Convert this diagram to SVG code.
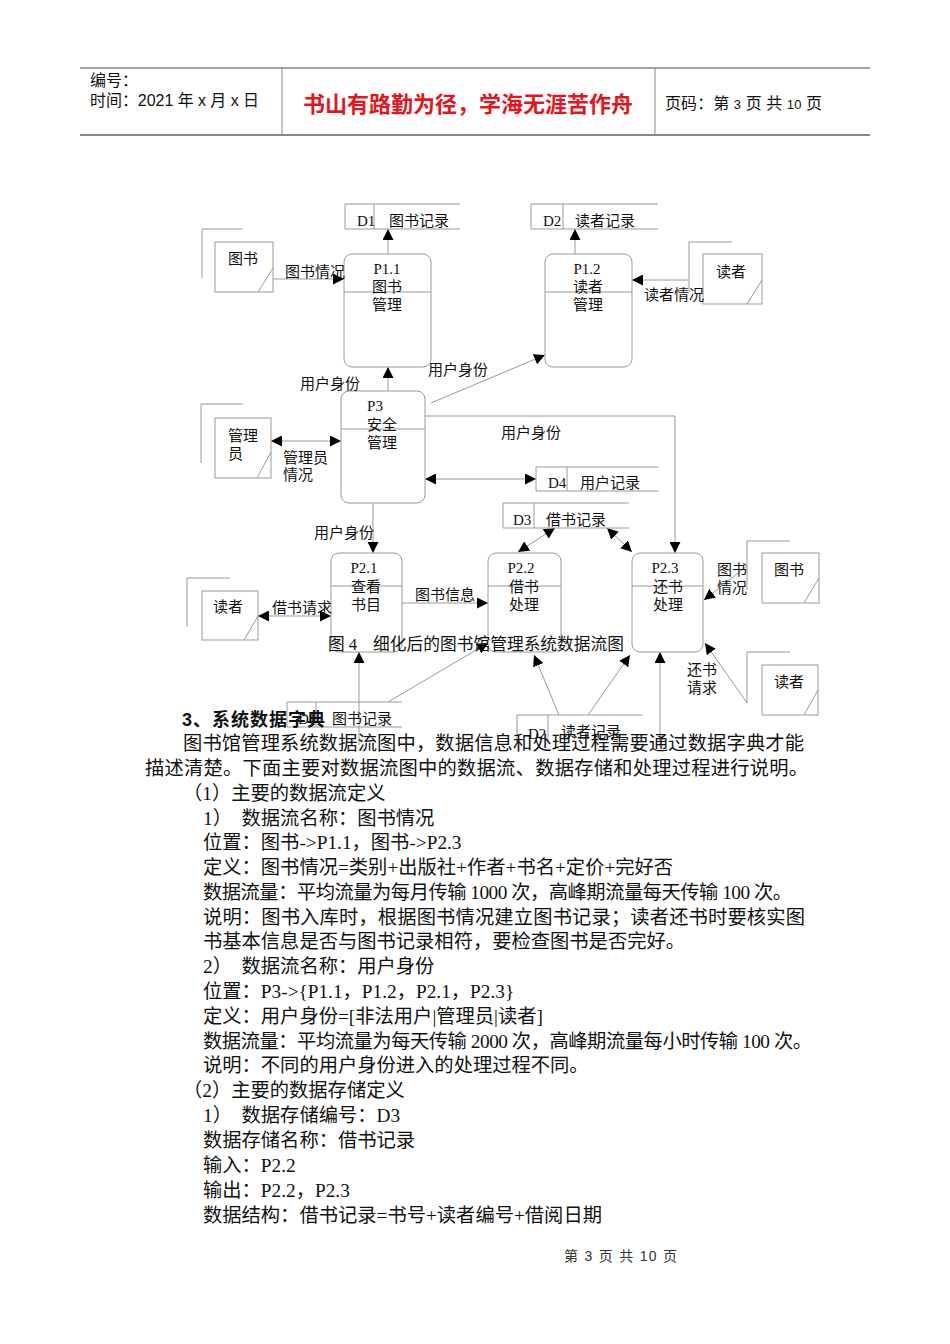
<svg xmlns="http://www.w3.org/2000/svg" width="950" height="1344" viewBox="0 0 950 1344">
<defs>
<marker id="ah" markerUnits="userSpaceOnUse" markerWidth="11" markerHeight="11" refX="10" refY="5" orient="auto-start-reverse" viewBox="0 0 10 10">
<path d="M0,0 L10,5 L0,10 z" fill="#000"/>
</marker>
<style>
.ln{stroke:#9a9a9a;stroke-width:1;fill:none}
.box{stroke:#9a9a9a;stroke-width:1;fill:#fff}
.proc{stroke:#9a9a9a;stroke-width:1;fill:#fff}
.c{stroke:#9a9a9a;stroke-width:1;fill:none;marker-end:url(#ah)}
.cb{stroke:#9a9a9a;stroke-width:1;fill:none;marker-end:url(#ah);marker-start:url(#ah)}
.t{font-family:"Liberation Serif","Noto Sans CJK SC",serif;font-size:15px;fill:#111}
.cap{font-family:"Liberation Serif","Noto Sans CJK SC",serif;font-size:16.7px;fill:#111}
.tm{text-anchor:middle}
.b{font-family:"Liberation Serif","Noto Sans CJK SC",serif;font-size:19.3px;fill:#111}
.h{font-family:"Liberation Sans","Noto Sans CJK SC",sans-serif;font-size:16px;fill:#111}
</style>
</defs>
<rect width="950" height="1344" fill="#fff"/>

<g id="header">
<line x1="80" y1="68" x2="870" y2="68" stroke="#444" stroke-width="1"/>
<line x1="80" y1="135" x2="870" y2="135" stroke="#888" stroke-width="2"/>
<line x1="282" y1="68" x2="282" y2="135" stroke="#888" stroke-width="1"/>
<line x1="655" y1="68" x2="655" y2="135" stroke="#888" stroke-width="1"/>
<text class="h" x="90" y="86">编号：</text>
<text class="h" x="90" y="106" textLength="169" lengthAdjust="spacing">时间：2021 年 x 月 x 日</text>
<text x="468" y="112" text-anchor="middle" font-family="Noto Sans CJK SC, sans-serif" font-size="22" font-weight="bold" fill="#e8141b">书山有路勤为径，学海无涯苦作舟</text>
<text class="h" x="665" y="109" textLength="157" lengthAdjust="spacing">页码：第 <tspan font-size="13">3</tspan> 页  共 <tspan font-size="13">10</tspan> 页</text>
</g>

<g id="connectors">
<line class="c" x1="273" y1="279" x2="344" y2="279"/>
<line class="c" x1="388" y1="254" x2="388" y2="229"/>
<line class="c" x1="388" y1="391" x2="388" y2="367"/>
<line class="c" x1="575" y1="254" x2="575" y2="229"/>
<line class="c" x1="689" y1="280" x2="632" y2="280"/>
<line class="c" x1="431" y1="403" x2="545" y2="355"/>
<polyline class="c" points="425,416 675,416 675,553"/>
<line class="cb" x1="271" y1="441" x2="341" y2="441"/>
<line class="cb" x1="425" y1="479" x2="536" y2="479"/>
<line class="c" x1="373" y1="503" x2="373" y2="553"/>
<line class="cb" x1="258" y1="616" x2="331" y2="616"/>
<line class="c" x1="402" y1="603" x2="488" y2="603"/>
<line class="cb" x1="555" y1="528" x2="518" y2="552"/>
<line class="cb" x1="607" y1="528" x2="632" y2="552"/>
<line class="c" x1="747" y1="566" x2="704" y2="600"/>
<line class="c" x1="747" y1="703" x2="705" y2="643"/>
<line class="c" x1="359" y1="745" x2="359" y2="652"/>
<line class="c" x1="388" y1="702" x2="488" y2="643"/>
<line class="c" x1="559" y1="715" x2="534" y2="655"/>
<line class="c" x1="588" y1="715" x2="630" y2="655"/>
<line class="c" x1="660" y1="745" x2="660" y2="652"/>
</g>

<g id="D1top">
<polyline class="ln" points="460,204 345,204 345,229 460,229"/>
<line class="ln" x1="374" y1="204" x2="374" y2="229"/>
<text class="t" x="357" y="226">D1</text>
<text class="t" x="389" y="226">图书记录</text>
</g>
<g id="D2top">
<polyline class="ln" points="658,204 531,204 531,229 658,229"/>
<line class="ln" x1="563" y1="204" x2="563" y2="229"/>
<text class="t" x="543" y="226">D2</text>
<text class="t" x="575" y="226">读者记录</text>
</g>
<g id="D4">
<polyline class="ln" points="659,467 536,467 536,491 659,491"/>
<line class="ln" x1="567" y1="467" x2="567" y2="491"/>
<text class="t" x="548" y="488">D4</text>
<text class="t" x="580" y="488">用户记录</text>
</g>
<g id="D3">
<polyline class="ln" points="629,503 503,503 503,528 629,528"/>
<line class="ln" x1="534" y1="503" x2="534" y2="528"/>
<text class="t" x="513" y="525">D3</text>
<text class="t" x="546" y="525">借书记录</text>
</g>
<g id="D1bottom">
<polyline class="ln" points="402,702 287,702 287,727 402,727"/>
<line class="ln" x1="316" y1="702" x2="316" y2="727"/>
<text class="t" x="298" y="724">D1</text>
<text class="t" x="332" y="724">图书记录</text>
</g>
<g id="D2bottom">
<polyline class="ln" points="643,715 517,715 517,742"/>
<line class="ln" x1="548" y1="715" x2="548" y2="742"/>
<text class="t" x="528" y="739">D2</text>
<text class="t" x="561" y="737">读者记录</text>
</g>

<g id="E_book1">
<polyline class="ln" points="243,229 202,229 202,278"/>
<rect class="box" x="215" y="242" width="58" height="50"/>
<line class="ln" x1="273" y1="268" x2="258" y2="292"/>
<text class="t" x="228" y="264">图书</text>
</g>
<g id="E_admin">
<polyline class="ln" points="243,404 201,404 201,463"/>
<rect class="box" x="215" y="418" width="56" height="60"/>
<line class="ln" x1="271" y1="452" x2="257" y2="478"/>
<text class="t" x="228" y="441">管理</text>
<text class="t" x="228" y="459">员</text>
</g>
<g id="E_reader1">
<polyline class="ln" points="732,242 689,242 689,292"/>
<rect class="box" x="703" y="254" width="59" height="50"/>
<line class="ln" x1="762" y1="280" x2="747" y2="304"/>
<text class="t" x="716" y="277">读者</text>
</g>
<g id="E_reader2">
<polyline class="ln" points="230,578 187,578 187,627"/>
<rect class="box" x="202" y="591" width="56" height="49"/>
<line class="ln" x1="258" y1="616" x2="244" y2="640"/>
<text class="t" x="213" y="612">读者</text>
</g>
<g id="E_book2">
<polyline class="ln" points="790,541 747,541 747,590"/>
<rect class="box" x="762" y="553" width="57" height="50"/>
<line class="ln" x1="819" y1="578" x2="804" y2="603"/>
<text class="t" x="774" y="575">图书</text>
</g>
<g id="E_reader3">
<polyline class="ln" points="790,652 747,652 747,703"/>
<rect class="box" x="762" y="665" width="56" height="50"/>
<line class="ln" x1="818" y1="690" x2="804" y2="715"/>
<text class="t" x="774" y="687">读者</text>
</g>

<g id="P1.1">
<rect class="proc" x="344" y="254" width="87" height="113" rx="8"/>
<line class="ln" x1="344" y1="292" x2="431" y2="292"/>
<text class="t tm" x="387" y="274">P1.1</text>
<text class="t tm" x="387" y="292">图书</text>
<text class="t tm" x="387" y="310">管理</text>
</g>
<g id="P1.2">
<rect class="proc" x="545" y="254" width="87" height="113" rx="8"/>
<line class="ln" x1="545" y1="292" x2="632" y2="292"/>
<text class="t tm" x="587" y="274">P1.2</text>
<text class="t tm" x="588" y="292">读者</text>
<text class="t tm" x="588" y="310">管理</text>
</g>
<g id="P3">
<rect class="proc" x="341" y="391" width="84" height="112" rx="8"/>
<line class="ln" x1="341" y1="429" x2="425" y2="429"/>
<text class="t tm" x="375" y="411">P3</text>
<text class="t tm" x="382" y="430">安全</text>
<text class="t tm" x="382" y="448">管理</text>
</g>
<g id="P2.1">
<rect class="proc" x="331" y="553" width="71" height="99" rx="8"/>
<line class="ln" x1="331" y1="586" x2="402" y2="586"/>
<text class="t tm" x="364" y="573">P2.1</text>
<text class="t tm" x="366" y="592">查看</text>
<text class="t tm" x="366" y="610">书目</text>
</g>
<g id="P2.2">
<rect class="proc" x="488" y="553" width="73" height="99" rx="8"/>
<line class="ln" x1="488" y1="586" x2="561" y2="586"/>
<text class="t tm" x="521" y="573">P2.2</text>
<text class="t tm" x="524" y="592">借书</text>
<text class="t tm" x="524" y="610">处理</text>
</g>
<g id="P2.3">
<rect class="proc" x="632" y="553" width="71" height="99" rx="8"/>
<line class="ln" x1="632" y1="586" x2="703" y2="586"/>
<text class="t tm" x="665" y="573">P2.3</text>
<text class="t tm" x="668" y="592">还书</text>
<text class="t tm" x="668" y="610">处理</text>
</g>

<g id="labels">
<text class="t" x="285" y="277">图书情况</text>
<text class="t" x="300" y="389">用户身份</text>
<text class="t" x="428" y="375">用户身份</text>
<text class="t" x="644" y="300">读者情况</text>
<text class="t" x="283" y="463">管理员</text>
<text class="t" x="283" y="480">情况</text>
<text class="t" x="501" y="438">用户身份</text>
<text class="t" x="314" y="538">用户身份</text>
<text class="t" x="272" y="613">借书请求</text>
<text class="t" x="415" y="600">图书信息</text>
<text class="t" x="717" y="575">图书</text>
<text class="t" x="717" y="593">情况</text>
<text class="t" x="687" y="675">还书</text>
<text class="t" x="687" y="693">请求</text>
<text class="cap" x="328" y="650">图 4</text>
<text class="cap" x="373" y="650" textLength="251" lengthAdjust="spacing">细化后的图书馆管理系统数据流图</text>
</g>

<g id="body">
<text x="182" y="726" font-family="Liberation Sans, Noto Sans CJK SC, sans-serif" font-size="18" font-weight="bold" fill="#111" textLength="143" lengthAdjust="spacing">3、系统数据字典</text>
<text class="b" x="183" y="750" textLength="621" lengthAdjust="spacing">图书馆管理系统数据流图中，数据信息和处理过程需要通过数据字典才能</text>
<text class="b" x="145" y="775" textLength="663" lengthAdjust="spacing">描述清楚。下面主要对数据流图中的数据流、数据存储和处理过程进行说明。</text>
<text class="b" x="183" y="800">（1）主要的数据流定义</text>
<text class="b" x="203" y="825">1）　数据流名称：图书情况</text>
<text class="b" x="203" y="849">位置：图书-&gt;P1.1，图书-&gt;P2.3</text>
<text class="b" x="203" y="874">定义：图书情况=类别+出版社+作者+书名+定价+完好否</text>
<text class="b" x="203" y="899" textLength="589" lengthAdjust="spacing">数据流量：平均流量为每月传输 1000 次，高峰期流量每天传输 100 次。</text>
<text class="b" x="203" y="924" textLength="602" lengthAdjust="spacing">说明：图书入库时，根据图书情况建立图书记录；读者还书时要核实图</text>
<text class="b" x="203" y="948">书基本信息是否与图书记录相符，要检查图书是否完好。</text>
<text class="b" x="203" y="973">2）　数据流名称：用户身份</text>
<text class="b" x="203" y="998">位置：P3-&gt;{P1.1，P1.2，P2.1，P2.3}</text>
<text class="b" x="203" y="1023">定义：用户身份=[非法用户|管理员|读者]</text>
<text class="b" x="203" y="1048" textLength="609" lengthAdjust="spacing">数据流量：平均流量为每天传输 2000 次，高峰期流量每小时传输 100 次。</text>
<text class="b" x="203" y="1072">说明：不同的用户身份进入的处理过程不同。</text>
<text class="b" x="183" y="1097">（2）主要的数据存储定义</text>
<text class="b" x="203" y="1122">1）　数据存储编号：D3</text>
<text class="b" x="203" y="1147">数据存储名称：借书记录</text>
<text class="b" x="203" y="1172">输入：P2.2</text>
<text class="b" x="203" y="1197">输出：P2.2，P2.3</text>
<text class="b" x="203" y="1222">数据结构：借书记录=书号+读者编号+借阅日期</text>
</g>

<g id="footer">
<text x="564" y="1261" font-family="Liberation Sans, Noto Sans CJK SC, sans-serif" font-size="14" fill="#333" textLength="113" lengthAdjust="spacing">第 3 页 共 10 页</text>
</g>
</svg>
